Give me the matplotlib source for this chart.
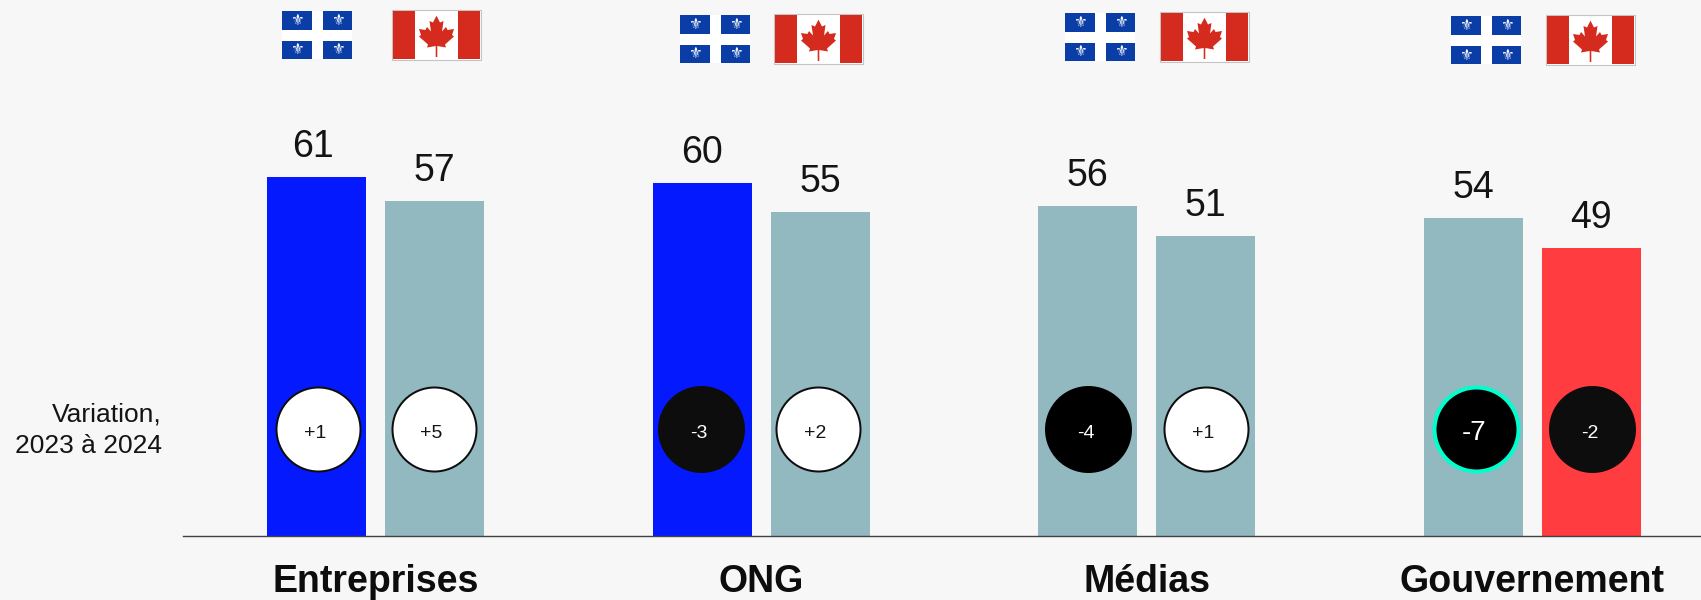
import matplotlib
matplotlib.use("Agg")
import matplotlib.pyplot as plt
from matplotlib.patches import Rectangle, Polygon

# Data
categories = ["Entreprises", "ONG", "Médias", "Gouvernement"]
values_qc = [61, 60, 56, 54]
values_ca = [57, 55, 51, 49]
changes_qc = ["+1", "-3", "-4", "-7"]
changes_ca = ["+5", "+2", "+1", "-2"]

# Colours per bar
colors_qc = ["#0519ff", "#0519ff", "#92b9c0", "#92b9c0"]
colors_ca = ["#92b9c0", "#92b9c0", "#92b9c0", "#ff3c3f"]
circle_qc = ["#ffffff", "#0d0d0d", "#000000", "#000000"]
circle_ca = ["#ffffff", "#ffffff", "#ffffff", "#0d0d0d"]

BG = "#f7f7f7"
TXT = "#141414"
W, H = 1701, 600
PX = 72 / 100  # one pixel in points

plt.rcParams["font.family"] = ["Liberation Sans", "DejaVu Sans"]

fig = plt.figure(figsize=(W / 100, H / 100), dpi=100, facecolor=BG)
ax = fig.add_axes([183 / W, 64 / H, 1 - 183 / W, 536 / H], facecolor="none")

pitch = 385.5
ax.set_xlim((183 - 375.5) / pitch, (W - 375.5) / pitch)
ax.set_ylim(0, 536 / 5.885)
offset = 59 / pitch
width = 99 / pitch
groups = list(range(len(categories)))
x_qc = [g - offset for g in groups]
x_ca = [g + offset for g in groups]

ax.bar(x_qc, values_qc, width, color=colors_qc)
ax.bar(x_ca, values_ca, width, color=colors_ca)

for s in ["top", "left", "right"]:
    ax.spines[s].set_visible(False)
ax.spines["bottom"].set_color("#404040")
ax.spines["bottom"].set_linewidth(1.0)
ax.set_yticks([])
ax.set_xticks(groups, categories, fontsize=27, fontweight="bold", color="#0d0d0d")
ax.tick_params(axis="x", length=0, pad=20.5)

# Value labels above the bars
label_shift = [-3, 0, 0, 0]
for i in groups:
    ax.annotate(str(values_qc[i]), (x_qc[i], values_qc[i]), xytext=(label_shift[i] * PX, 20 * PX),
                textcoords="offset points", ha="center", va="baseline", fontsize=27, color=TXT)
    ax.annotate(str(values_ca[i]), (x_ca[i], values_ca[i]), xytext=(0, 20 * PX),
                textcoords="offset points", ha="center", va="baseline", fontsize=27, color=TXT)

# Variation circles
circle_y = (536 - 429) / 5.885
shift_qc = [1.5, -1, 0.5, 2.5]
shift_ca = [-0.5, -2, 0, 1]


def draw_bubble(x, shift, label, color, big=False):
    pos = x + shift / pitch
    if big:
        ax.scatter([pos], [circle_y], s=(84 * PX) ** 2, color=color, edgecolor="#00ffcc",
                   linewidth=4 * PX, zorder=3)
    elif color == "#ffffff":
        ax.scatter([pos], [circle_y], s=(84 * PX) ** 2, color=color, edgecolor="#0d0d0d",
                   linewidth=2 * PX, zorder=3)
    else:
        ax.scatter([pos], [circle_y], s=(87 * PX) ** 2, color=color, linewidth=0, zorder=3)
    tcol = "#141414" if color == "#ffffff" else "#ffffff"
    ax.annotate(label, (pos, circle_y), xytext=((-1.5 if big else -2.5) * PX, (-10.5 if big else -9) * PX),
                textcoords="offset points", ha="center", va="baseline",
                fontsize=20 if big else 14, color=tcol, zorder=4)


for i in groups:
    draw_bubble(x_qc[i], shift_qc[i], changes_qc[i], circle_qc[i], big=changes_qc[i] == "-7")
    draw_bubble(x_ca[i], shift_ca[i], changes_ca[i], circle_ca[i])

# Overlay in pixel coordinates for the flags and the side note
ov = fig.add_axes([0, 0, 1, 1], facecolor="none")
ov.set_xlim(0, W)
ov.set_ylim(H, 0)
ov.axis("off")

ov.text(161.5, 421.7, "Variation,", ha="right", va="baseline", fontsize=19, color=TXT)
ov.text(161.5, 453, "2023 à 2024", ha="right", va="baseline", fontsize=19, color=TXT)

flags_qc = [(282, 11), (680, 15), (1065, 13), (1451, 16)]
flags_ca = [(392, 10), (774, 14), (1160, 12), (1546, 15)]
leaf_half = [(0, -19.3), (3.5, -12.5), (7, -14), (5.5, -3.5), (9.5, -8), (11, -5), (17.5, -6),
             (15.5, 0), (17.5, 1.5), (8.5, 9.5), (9.5, 12.5), (0.8, 11), (0.8, 22)]
leaf = leaf_half + [(-a, b) for a, b in reversed(leaf_half)]


def flag_quebec(x, y):
    blue = "#0a3ea6"
    ov.add_patch(Rectangle((x, y), 70, 48, color="#ffffff", lw=0))
    for dx, w in [(0, 30), (41, 29)]:
        for dy, h in [(0, 18.5), (30, 18)]:
            ov.add_patch(Rectangle((x + dx, y + dy), w, h, color=blue, lw=0))
            ov.text(x + dx + w / 2, y + dy + h / 2, "\u269c", ha="center", va="center",
                    fontsize=11, color="#ffffff", family="DejaVu Sans")


def flag_canada(x, y):
    red = "#d52b1e"
    ov.add_patch(Rectangle((x, y), 88.5, 49.5, facecolor="#ffffff", edgecolor="#c4c4c4", lw=0.8))
    ov.add_patch(Rectangle((x + 0.5, y + 0.5), 22.5, 48.5, color=red, lw=0))
    ov.add_patch(Rectangle((x + 66, y + 0.5), 22, 48.5, color=red, lw=0))
    cx, cy = x + 44.5, y + 25
    ov.add_patch(Polygon([(cx + a, cy + b) for a, b in leaf], closed=True, color=red, lw=0))


for (xq, yq), (xc, yc) in zip(flags_qc, flags_ca):
    flag_quebec(xq, yq)
    flag_canada(xc, yc)

fig.savefig("out.png", dpi=100, facecolor=BG)
